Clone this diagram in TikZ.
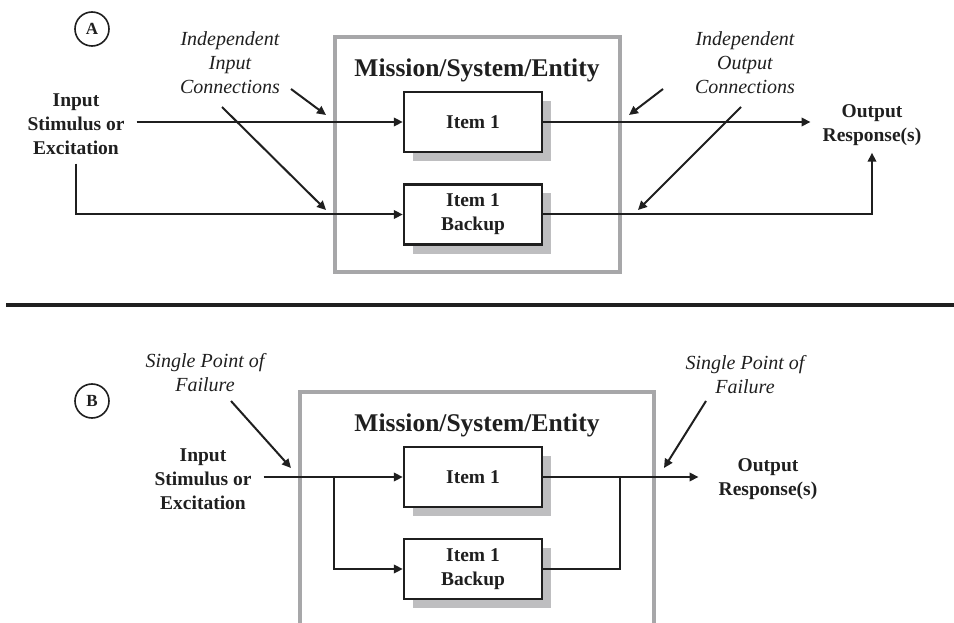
\documentclass[tikz,border=0pt]{standalone}
\usepackage{fontspec}
\setmainfont{Liberation Serif}
\usetikzlibrary{arrows.meta,shadows,calc}
\definecolor{ink}{HTML}{1F1F1F}
\definecolor{framegray}{HTML}{A7A7A9}
\definecolor{shadegray}{HTML}{BEBEC0}
\tikzset{
  lbl/.style={inner sep=0pt, align=center, font=\bfseries\fontsize{19.5}{24}\selectfont, text=ink},
  note/.style={inner sep=0pt, align=center, font=\itshape\fontsize{20}{24}\selectfont, text=ink},
  ttl/.style={inner sep=0pt, font=\bfseries\fontsize{25.5}{30}\selectfont, text=ink},
  itembox/.style={draw=ink, line width=2.4pt, fill=white, minimum width=138pt, minimum height=60pt,
    inner sep=0pt, align=center, font=\bfseries\fontsize{19.5}{24}\selectfont, text=ink,
    general shadow={fill=shadegray, shadow xshift=9pt, shadow yshift=-9pt}},
  tag/.style={draw=ink, line width=1.6pt, circle, minimum size=34pt, inner sep=0pt,
    font=\bfseries\fontsize{17}{20}\selectfont, text=ink},
  frame/.style={draw=framegray, line width=4pt},
  wire/.style={draw=ink, line width=2pt},
  arr/.style={wire, -{Triangle[length=9pt,width=8.5pt]}},
}
\begin{document}
\begin{tikzpicture}[x=1pt,y=-1pt]
\useasboundingbox (0,0) rectangle (954,623);

% ---------- Panel A: independent connections ----------
\node[tag] (tagA) at (92,29) {A};
\draw[frame] (335,37) rectangle (620,272);
\node[ttl] (ttlA) at (477,70) {Mission/System/Entity};
\node[itembox] (itA) at (473,122) {Item 1};
\node[itembox] (bkA) at (473,214.5) {Item 1\\Backup};

\node[lbl] (inA) at (76,124) {Input\\Stimulus or\\Excitation};
\node[lbl] (outA) at (872,125) {Output\\Response(s)};
\node[note] (noteInA) at (230,63) {Independent\\Input\\Connections};
\node[note] (noteOutA) at (745,63) {Independent\\Output\\Connections};

\draw[arr] ([xshift=12pt]inA.east |- itA.west) -- (itA.west);
\draw[arr] ($(inA.south)+(0,9)$) |- (bkA.west);
\coordinate (outAin) at ($(outA.west |- itA.east)+(-12,0)$);
\draw[arr] (itA.east) -- (outAin);
\draw[arr] (bkA.east) -| ($(outA.south)+(0,7)$);

\coordinate (ciA1) at (291,89);
\coordinate (ciA2) at (222,107);
\coordinate (coA1) at (663,89);
\coordinate (coA2) at (741,107);
\draw[arr] (ciA1) -- (326,115);
\draw[arr] (ciA2) -- (326,210);
\draw[arr] (coA1) -- (629,115);
\draw[arr] (coA2) -- (638,210);

% ---------- divider ----------
\draw[draw=ink, line width=4pt] (6,305) -- (954,305);

% ---------- Panel B: single points of failure ----------
\node[tag] (tagB) at (92,401) {B};
\draw[frame] (300,630) -- (300,392) -- (654,392) -- (654,630);
\node[ttl] (ttlB) at (477,425) {Mission/System/Entity};
\node[itembox] (itB) at (473,477) {Item 1};
\node[itembox] (bkB) at (473,569) {Item 1\\Backup};

\node[lbl] (inB) at (203,479) {Input\\Stimulus or\\Excitation};
\node[lbl] (outB) at (768,479) {Output\\Response(s)};
\node[note] (noteInB) at (205,373) {Single Point of\\Failure};
\node[note] (noteOutB) at (745,375) {Single Point of\\Failure};

\coordinate (splitB) at (334,477);
\coordinate (joinB) at (620,477);
\draw[arr] ([xshift=12pt]inB.east |- itB.west) -- (itB.west);
\draw[arr] (splitB) |- (bkB.west);
\draw[arr] (itB.east) -- ($(outB.west |- itB.east)+(-20,0)$);
\draw[wire] (bkB.east) -| (joinB);

\draw[arr] (231,401) -- (291,468);
\draw[arr] (706,401) -- (664,468);
\end{tikzpicture}
\end{document}
